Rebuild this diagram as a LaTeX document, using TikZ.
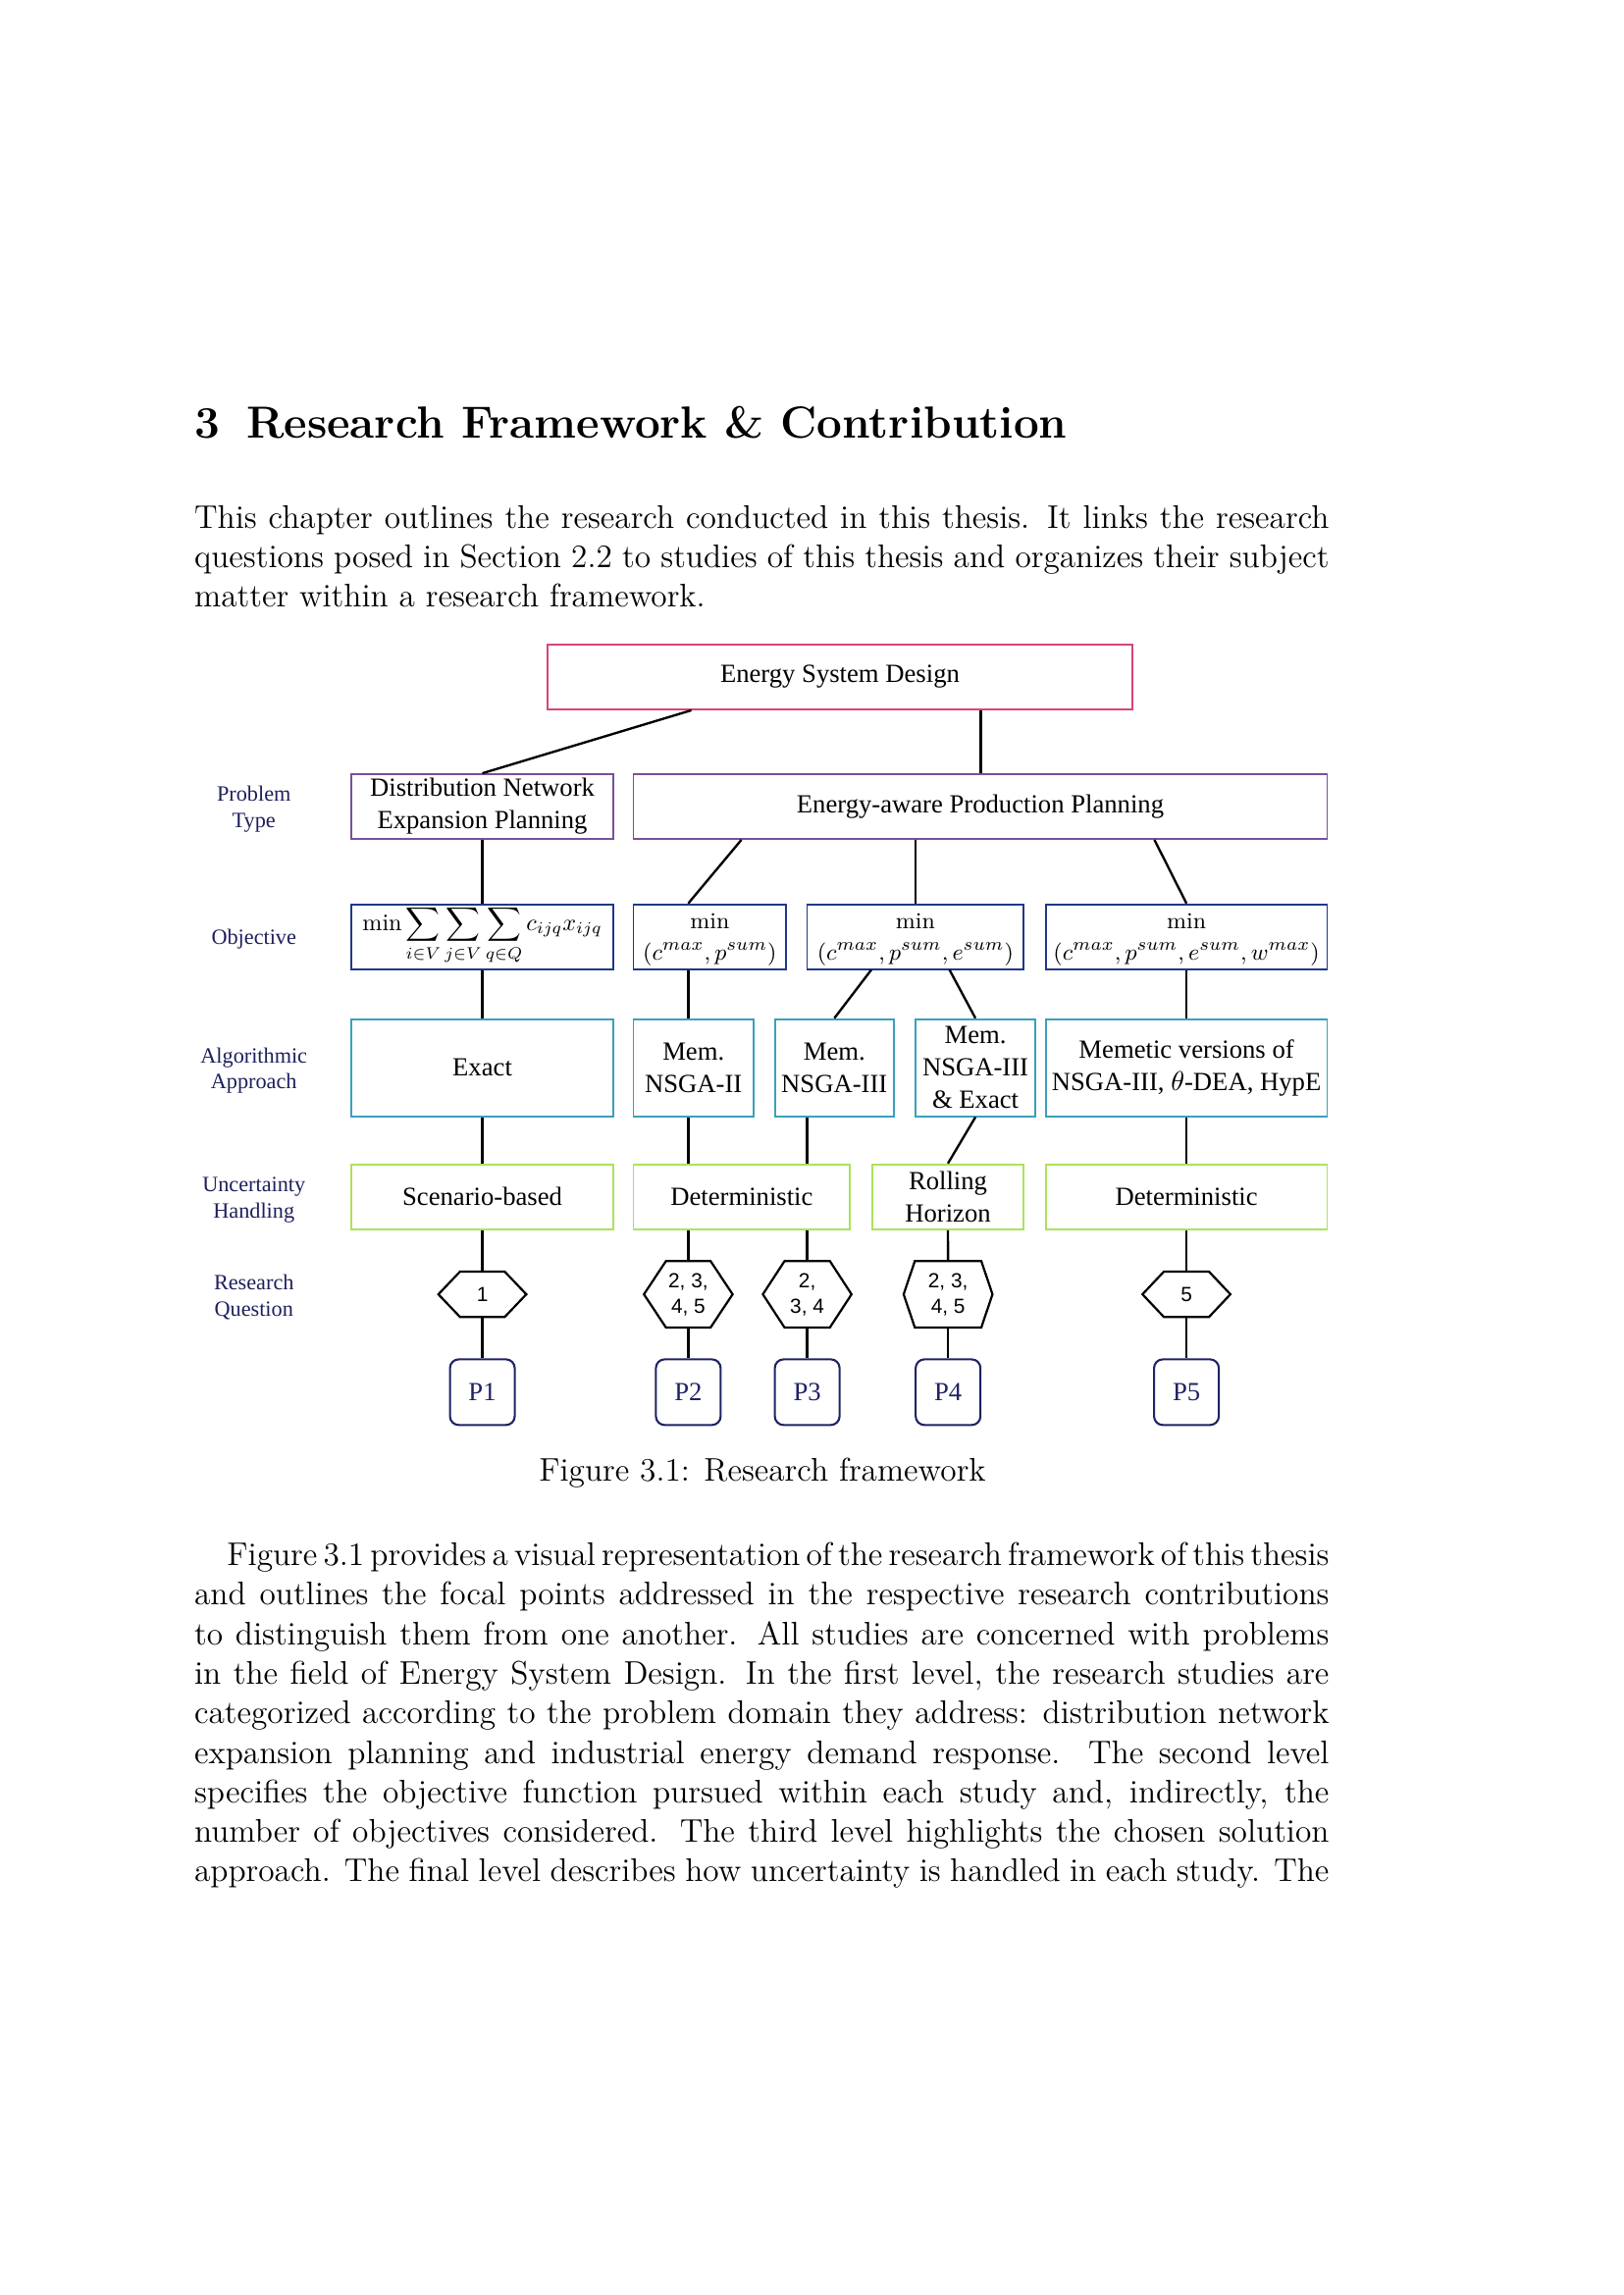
\documentclass[tikz,border=0pt]{standalone}
\usepackage{graphicx}
\usepackage{fontspec}
\DeclareMathSizes{9}{9}{7}{5}
\newfontfamily\tnr{Liberation Serif}
\newfontfamily\arl{Liberation Sans}
\usetikzlibrary{calc}
\definecolor{cESD}{RGB}{214,69,125}
\definecolor{cPT}{RGB}{122,78,157}
\definecolor{cOBJ}{RGB}{30,56,140}
\definecolor{cALG}{RGB}{58,160,189}
\definecolor{cUNC}{RGB}{172,226,90}
\definecolor{cP}{RGB}{31,34,100}
\definecolor{cLab}{RGB}{30,32,92}
\newcommand\om[1]{\scalebox{0.935}{#1}}
\tikzset{
  box/.style={draw, line width=0.65pt, inner sep=0pt, align=center, font=\tnr\fontsize{9.6}{11.9}\selectfont},
  otxt/.style={anchor=base, inner sep=0pt, font=\fontsize{9}{10}\selectfont},
  conn/.style={line width=0.85pt, black},
  lab/.style={text=cLab, align=center, inner sep=0pt, font=\tnr\fontsize{8}{9.6}\selectfont},
  hexn/.style={inner sep=0pt, align=center, font=\arl\fontsize{7.5}{9.4}\selectfont},
  hexd/.style={draw=black, line width=0.8pt},
  pbox/.style={draw=cP, text=cP, line width=0.75pt, rounded corners=3.2pt, inner sep=0pt, minimum width={44*0.54pt}, minimum height={44.6*0.54pt}, font=\tnr\fontsize{9.6}{11}\selectfont},
  body/.style={anchor=base west, inner sep=0pt, font=\fontsize{12}{14.5}\selectfont},
  headf/.style={anchor=base west, inner sep=0pt, font=\fontsize{16.5}{20}\selectfont\bfseries},
}
\newcommand\bx[7]{\node[box,#6, minimum width={(#4-#2)*0.54pt}, minimum height={(#5-#3)*0.54pt}] (#1) at ({(#2+#4)/2},{(#3+#5)/2}) {#7};}
\newcommand\hexa[6]{%
  \node[hexn, minimum width={#3*0.54pt}, minimum height={#4*0.54pt}] (#1) at (#2,879.4) {#6};
  \draw[hexd] (#1.west) -- ([xshift={#5*0.54pt}]#1.north west) -- ([xshift={-#5*0.54pt}]#1.north east) -- (#1.east) -- ([xshift={-#5*0.54pt}]#1.south east) -- ([xshift={#5*0.54pt}]#1.south west) -- cycle;}
\begin{document}
\begin{tikzpicture}[x=0.54pt,y=-0.54pt]
\useasboundingbox[fill=white] (0,0) rectangle (1102.67,1559.33);
% heading and text
\node[headf] (hnum) at (131.7,297.8) {3};
\node[headf] (htitle) at (167,297.8) {Research Framework \& Contribution};
\node[body] (a1) at (131.7,358.9) {\makebox[416.3pt][s]{This chapter outlines the research conducted in this thesis. It links the research}};
\node[body] (a2) at (131.7,385.75) {\makebox[416.3pt][s]{questions posed in Section 2.2 to studies of this thesis and organizes their subject}};
\node[body] (a3) at (131.7,412.6) {matter within a research framework.};
% diagram boxes
\bx{esd}{371.9}{438}{769.4}{482}{draw=cESD}{Energy System Design}
\bx{dnep}{238.9}{526}{416.5}{570}{draw=cPT}{Distribution Network\\Expansion Planning}
\bx{eapp}{430.3}{526}{901.7}{570}{draw=cPT}{Energy-aware Production Planning}
\bx{obj1}{238.9}{614.4}{416.5}{658.4}{draw=cOBJ}{}
\bx{obj2}{430.3}{614.4}{534.2}{658.4}{draw=cOBJ}{}
\bx{obj3}{548.3}{614.4}{695.5}{658.4}{draw=cOBJ}{}
\bx{obj4}{710.4}{614.4}{901.7}{658.4}{draw=cOBJ}{}
\node[otxt, font=\fontsize{10}{11}\selectfont] (obj1f) at (obj1.center |- 0,632.2) {\scalebox{0.87}{$\displaystyle\min\sum_{i\in V}\sum_{j\in V}\sum_{q\in Q}c_{ijq}x_{ijq}$}};
\node[otxt] (obj2m) at (obj2.center |- 0,631.1) {\om{$\min$}};
\node[otxt] (obj2t) at (obj2.center |- 0,652.2) {\om{$(c^{max},p^{sum})$}};
\node[otxt] (obj3m) at (obj3.center |- 0,631.1) {\om{$\min$}};
\node[otxt] (obj3t) at (obj3.center |- 0,652.2) {\om{$(c^{max},p^{sum},e^{sum})$}};
\node[otxt] (obj4m) at (obj4.center |- 0,631.1) {\om{$\min$}};
\node[otxt] (obj4t) at (obj4.center |- 0,652.2) {\om{$(c^{max},p^{sum},e^{sum},w^{max})$}};
\bx{alg1}{238.9}{692.4}{416.5}{758.4}{draw=cALG}{Exact}
\bx{alg2}{430.3}{692.4}{512}{758.4}{draw=cALG}{Mem.\\NSGA-II}
\bx{alg3}{526.6}{692.4}{607.1}{758.4}{draw=cALG}{Mem.\\NSGA-III}
\bx{alg4}{622.2}{692.4}{703.2}{758.4}{draw=cALG}{Mem.\\NSGA-III\\\& Exact}
\bx{alg5}{710.4}{692.4}{901.7}{758.4}{draw=cALG}{Memetic versions of\\NSGA-III, $\theta$-DEA, HypE}
\bx{unc1}{238.9}{791.1}{416.5}{835.3}{draw=cUNC}{Scenario-based}
\bx{unc2}{430.3}{791.1}{577.5}{835.3}{draw=cUNC}{Deterministic}
\bx{unc3}{592.5}{791.1}{695.5}{835.3}{draw=cUNC}{Rolling\\Horizon}
\bx{unc4}{710.4}{791.1}{901.7}{835.3}{draw=cUNC}{Deterministic}
% hexagons
\hexa{h1}{327.7}{59}{30}{14.65}{1}
\hexa{h2}{467.6}{59.5}{44.5}{15}{2, 3,\\4, 5}
\hexa{h3}{548.4}{59.5}{44.5}{14.75}{2,\\3, 4}
\hexa{h4}{644.1}{59.6}{44.5}{7.6}{2, 3,\\4, 5}
\hexa{h5}{806.05}{59}{30}{14.5}{5}
% papers
\node[pbox] (p1) at (327.7,945.9) {P1};
\node[pbox] (p2) at (467.6,945.9) {P2};
\node[pbox] (p3) at (548.4,945.9) {P3};
\node[pbox] (p4) at (644.1,945.9) {P4};
\node[pbox] (p5) at (806.05,945.9) {P5};
% row labels
\node[lab] (lpt) at (172.5,550) {Problem\\Type};
\node[lab] (lobj) at (172.5,638.4) {Objective};
\node[lab] (lalg) at (172.5,727.4) {Algorithmic\\Approach};
\node[lab] (lunc) at (172.5,815.2) {Uncertainty\\Handling};
\node[lab] (lrq) at (172.5,881.4) {Research\\Question};
% connectors
\draw[conn] (469.7,0 |- esd.south) -- (dnep.north);
\draw[conn] (666.3,0 |- esd.south) -- (666.3,0 |- eapp.north);
\draw[conn] (503.7,0 |- eapp.south) -- (467.6,0 |- obj2.north);
\draw[conn] (obj3.north |- eapp.south) -- (obj3.north);
\draw[conn] (784.3,0 |- eapp.south) -- (obj4.north);
\draw[conn] (dnep.south) -- (obj1.north);
\draw[conn] (obj1.south) -- (alg1.north);
\draw[conn] (467.6,0 |- obj2.south) -- (467.6,0 |- alg2.north);
\draw[conn] (591.9,0 |- obj3.south) -- (alg3.north);
\draw[conn] (645.1,0 |- obj3.south) -- (alg4.north);
\draw[conn] (obj4.south) -- (alg5.north);
\draw[conn] (alg1.south) -- (unc1.north);
\draw[conn] (467.6,0 |- alg2.south) -- (467.6,0 |- unc2.north);
\draw[conn] (548.4,0 |- alg3.south) -- (548.4,0 |- unc2.north);
\draw[conn] (alg4.south) -- (unc3.north);
\draw[conn] (alg5.south) -- (unc4.north);
\draw[conn] (unc1.south) -- (h1.north);
\draw[conn] (467.6,0 |- unc2.south) -- (h2.north);
\draw[conn] (548.4,0 |- unc2.south) -- (h3.north);
\draw[conn] (unc3.south) -- (h4.north);
\draw[conn] (unc4.south) -- (h5.north);
\draw[conn] (h1.south) -- (p1.north);
\draw[conn] (h2.south) -- (p2.north);
\draw[conn] (h3.south) -- (p3.north);
\draw[conn] (h4.south) -- (p4.north);
\draw[conn] (h5.south) -- (p5.north);
% caption
\node[anchor=base, inner sep=0pt, font=\fontsize{12}{14.5}\selectfont] (cap) at (518,1006) {Figure 3.1: Research framework};
% paragraph 2
\node[body] (b1) at (153.9,1063.8) {\spaceskip=3.9pt plus 2pt minus 2.2pt\makebox[404.3pt][s]{Figure 3.1 provides a visual representation of the research framework of this thesis}};
\node[body] (b2) at (131.7,1090.65) {\makebox[416.3pt][s]{and outlines the focal points addressed in the respective research contributions}};
\node[body] (b3) at (131.7,1117.5) {\makebox[416.3pt][s]{to distinguish them from one another. All studies are concerned with problems}};
\node[body] (b4) at (131.7,1144.35) {\makebox[416.3pt][s]{in the field of Energy System Design. In the first level, the research studies are}};
\node[body] (b5) at (131.7,1171.2) {\makebox[416.3pt][s]{categorized according to the problem domain they address: distribution network}};
\node[body] (b6) at (131.7,1198.05) {\makebox[416.3pt][s]{expansion planning and industrial energy demand response. The second level}};
\node[body] (b7) at (131.7,1224.9) {\makebox[416.3pt][s]{specifies the objective function pursued within each study and, indirectly, the}};
\node[body] (b8) at (131.7,1251.75) {\makebox[416.3pt][s]{number of objectives considered. The third level highlights the chosen solution}};
\node[body] (b9) at (131.7,1278.6) {\makebox[416.3pt][s]{approach. The final level describes how uncertainty is handled in each study. The}};
\end{tikzpicture}
\end{document}
